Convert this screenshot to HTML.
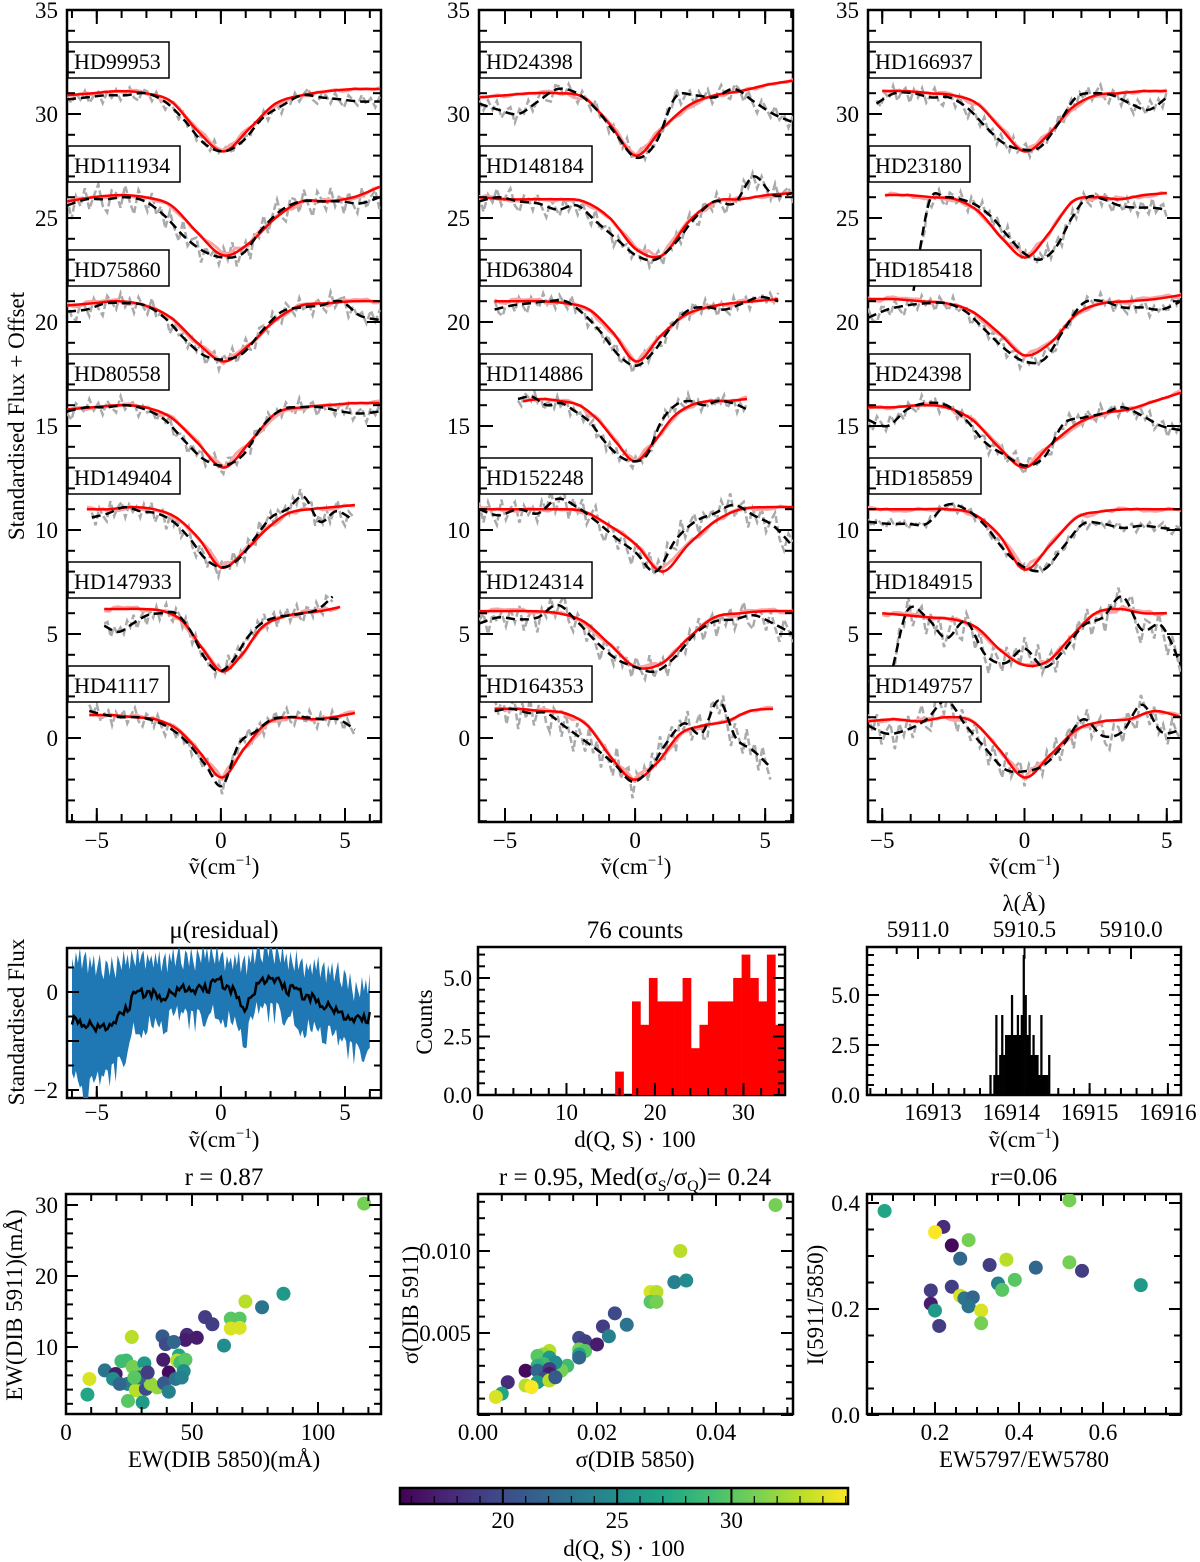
<!DOCTYPE html>
<html><head><meta charset="utf-8"><style>
html,body{margin:0;padding:0;background:#fff}
svg{display:block;font-family:"Liberation Serif",serif}
</style></head><body>
<svg id="fig" width="1200" height="1562" viewBox="0 0 1200 1562" xmlns="http://www.w3.org/2000/svg">
<defs>
<linearGradient id="viridis" x1="0" x2="1" y1="0" y2="0">
<stop offset="0" stop-color="#440154"/><stop offset="0.1" stop-color="#482475"/><stop offset="0.2" stop-color="#414487"/><stop offset="0.3" stop-color="#355f8d"/><stop offset="0.4" stop-color="#2a788e"/><stop offset="0.5" stop-color="#21918c"/><stop offset="0.6" stop-color="#22a884"/><stop offset="0.7" stop-color="#44bf70"/><stop offset="0.8" stop-color="#7ad151"/><stop offset="0.9" stop-color="#bddf26"/><stop offset="1" stop-color="#fde725"/>
</linearGradient>
</defs>
</svg>
<script>
// ---------- spectra data ----------
const p1Names=["HD99953","HD111934","HD75860","HD80558","HD149404","HD147933","HD41117"];
const p2Names=["HD24398","HD148184","HD63804","HD114886","HD152248","HD124314","HD164353"];
const p3Names=["HD166937","HD23180","HD185418","HD24398","HD185859","HD184915","HD149757"];
const p1RedRange=[[-6.2,6.4],[-6.2,6.4],[-6.2,6.4],[-6.2,6.4],[-5.4,5.4],[-4.7,4.8],[-5.3,5.4]];
const p1BlackRange=[[-6.2,6.4],[-6.2,6.4],[-6.2,6.4],[-6.2,6.4],[-5.2,5.3],[-4.7,4.5],[-5.3,5.4]];
const p1Red=[
[30.9,31.0,31.1,31.0,30.6,29.2,28.2,29.3,30.5,30.9,31.1,31.2,31.2],
[25.8,26.0,26.1,26.0,25.6,24.3,23.2,23.8,25.0,25.8,25.8,26.0,26.5],
[20.8,20.9,21.0,20.8,20.2,19.0,18.1,18.9,20.1,20.8,20.9,21.0,21.0],
[15.8,15.9,16.0,15.9,15.4,14.2,13.0,14.2,15.6,15.9,16.0,16.1,16.1],
[11.0,11.0,11.1,11.0,10.6,9.6,8.2,8.9,10.0,10.8,11.0,11.1,11.2],
[6.2,6.2,6.2,6.1,5.6,4.3,3.2,4.0,5.3,5.8,6.0,6.1,6.3],
[1.1,1.1,1.0,0.9,0.4,-0.7,-1.9,-0.5,0.7,1.0,0.9,1.0,1.2]];
const p1Black=[
[30.7,30.8,30.9,30.9,31.0,30.6,29.7,28.6,28.2,28.7,29.8,30.4,30.9,30.8,30.7,30.6,30.6],
[25.6,25.9,25.9,26.0,25.8,25.1,24.1,23.4,23.1,23.3,24.5,25.4,25.8,25.8,25.8,25.7,26.0],
[20.5,20.6,20.9,20.9,20.8,20.2,19.2,18.4,18.2,18.5,19.6,20.5,20.7,20.8,21.0,20.3,20.1],
[15.7,15.9,15.9,16.0,15.8,15.3,14.3,13.4,13.1,13.6,15.0,15.8,15.9,15.9,15.7,15.6,15.7],
[10.6,10.8,11.1,10.9,10.8,10.4,9.6,8.6,8.2,8.6,9.6,10.6,11.0,11.6,10.4,10.9,10.5],
[5.4,5.1,5.5,5.9,6.0,6.0,5.2,3.9,3.2,3.7,4.8,5.5,5.8,5.9,6.0,6.2,6.8],
[1.3,1.1,1.0,1.0,0.8,0.4,-0.3,-1.3,-2.3,-0.3,0.3,0.9,1.0,1.0,0.9,0.9,0.4]];
const p2RedRange=[[-6,6.07],[-6,6.07],[-5.4,5.5],[-4.3,4.3],[-6,6.07],[-6,6.07],[-5.4,5.3]];
const p2BlackRange=[[-6,6.07],[-6,6.07],[-5.4,5.5],[-4.5,4.3],[-6,6.07],[-6,6.07],[-5.4,5.2]];
const p2Red=[
[30.8,30.9,31.0,31.0,30.8,29.5,28.0,29.3,30.4,30.9,31.1,31.4,31.6],
[26.0,25.9,25.9,25.9,25.8,25.0,23.5,23.2,24.8,25.8,25.9,26.1,26.2],
[21.0,21.0,21.0,20.9,20.6,19.5,18.1,19.3,20.3,20.7,20.9,21.0,21.1],
[16.2,16.3,16.2,16.0,15.3,14.2,13.3,14.2,15.4,16.0,16.2,16.2,16.3],
[11.0,11.0,11.0,11.0,10.9,10.2,9.3,8.0,9.3,10.4,11.0,11.1,11.1],
[6.1,6.1,6.1,6.0,5.6,4.5,3.4,3.6,4.8,5.8,6.0,6.1,6.1],
[1.4,1.4,1.3,1.2,0.6,-0.9,-2.0,-1.2,0.2,0.6,0.8,1.3,1.4]];
const p2Black=[
[30.5,30.2,30.0,30.6,31.2,31.0,30.2,29.0,27.9,28.6,30.8,30.9,30.8,31.2,30.6,30.0,29.6],
[25.8,26.0,25.8,25.7,25.4,25.6,24.8,24.0,23.2,23.0,23.8,25.0,25.8,25.7,27.0,26.1,26.2],
[20.6,20.8,20.9,21.0,21.0,20.4,19.5,18.4,17.9,18.6,19.8,20.6,20.7,20.6,20.9,21.2,21.0],
[16.3,16.4,16.0,16.1,15.7,15.2,14.3,13.6,13.3,13.6,15.2,16.0,16.2,16.0,16.2,16.1,15.8],
[11.0,10.7,11.0,10.8,11.5,11.1,10.4,9.6,8.9,8.0,9.5,10.4,10.8,11.2,10.7,10.2,9.2],
[5.5,5.8,5.7,5.8,6.4,5.6,4.6,3.8,3.4,3.2,3.9,5.0,5.6,5.7,5.9,5.5,5.0],
[1.3,1.4,1.2,1.2,0.6,0.0,-0.6,-1.3,-2.1,-1.5,-0.2,0.7,0.2,1.8,0.0,-0.6,-1.4]];
const p3RedRange=[[-5,5],[-4.9,5],[-5.5,5.5],[-5.5,5.5],[-5.5,5.5],[-5,5],[-5.5,5.5]];
const p3BlackRange=[[-5.2,5],[-3.9,5],[-5.5,5.5],[-5.5,5.5],[-5.5,5.5],[-5.5,5.5],[-5.5,5.5]];
const p3Red=[
[31.1,31.1,31.0,30.9,30.5,29.3,28.2,29.0,30.3,30.9,31.0,31.1,31.1],
[26.1,26.1,26.0,25.9,25.3,24.0,23.1,24.3,25.8,26.0,25.9,26.1,26.2],
[21.1,21.1,21.0,20.9,20.5,19.5,18.4,19.0,20.4,20.9,21.0,21.1,21.3],
[15.9,15.9,16.0,15.9,15.3,14.0,13.0,14.1,15.1,15.6,15.8,16.2,16.6],
[11.0,11.0,11.0,11.0,10.8,9.8,8.1,9.3,10.6,10.9,11.0,11.0,11.0],
[6.0,5.9,5.8,5.7,5.3,4.2,3.5,3.7,4.9,6.0,6.2,6.0,6.0],
[0.8,0.9,0.8,1.0,0.8,-0.5,-1.9,-0.8,0.4,0.8,0.9,1.3,1.0]];
const p3Black=[
[30.5,31.0,31.0,30.8,30.8,30.3,29.4,28.6,28.3,28.4,29.5,30.8,31.0,30.9,30.5,30.2,30.8],
[21.5,25.8,26.0,25.9,25.6,25.0,24.1,23.3,23.0,23.6,25.0,26.0,25.9,25.6,25.5,25.5,25.4],
[20.2,20.6,20.8,20.9,20.9,20.5,19.6,18.7,18.1,18.2,19.6,20.9,21.0,20.7,20.7,20.6,21.0],
[15.3,15.0,15.8,16.1,16.0,15.3,14.2,13.6,13.1,13.5,15.1,15.4,15.6,15.9,15.5,15.0,14.8],
[10.4,10.3,10.3,10.3,11.2,11.0,10.2,9.0,8.2,8.1,9.2,10.3,10.3,10.1,10.2,10.1,10.0],
[2.5,2.6,6.1,5.8,4.8,5.6,4.0,3.6,4.3,3.4,4.2,5.4,5.8,6.8,5.2,5.4,3.5],
[0.6,0.2,0.4,0.9,1.8,0.6,-0.5,-1.5,-1.6,-1.3,-0.3,0.9,0.1,0.3,1.6,0.3,0.4]];
const p1Noise=[0.4,0.8,0.6,0.5,0.6,0.5,0.5];
const p2Noise=[0.5,0.6,0.5,0.4,0.8,0.8,1.0];
const p3Noise=[0.5,0.5,0.5,0.5,0.3,0.9,0.9];
const jitter=[0.3,-0.5,0.6,-0.2,0.8,-0.7,0.1,0.5,-0.9,0.4,-0.3,0.7,-0.6,0.2,0.9,-0.4,-0.8,0.5,0.3,-0.6,0.7,-0.2,-0.9,0.6,0.1,-0.5,0.8,-0.3,0.4,-0.7,0.6,-0.1,-0.6,0.9,-0.4,0.2,0.5,-0.8,0.3,-0.2];
const specTicks=[0,5,10,15,20,25,30,35];
// ---------- residual ----------
const resX=[-6,-5.5,-5,-4.5,-4,-3.5,-3,-2.5,-2,-1.5,-1,-0.5,0,0.5,1,1.5,2,2.5,3,3.5,4,4.5,5,5.5,6];
const resMean=[-0.6,-0.6,-0.7,-0.7,-0.5,-0.1,0.0,-0.1,0.0,0.1,0.0,0.1,0.2,0.0,-0.3,0.2,0.3,0.1,0.0,-0.1,-0.2,-0.3,-0.5,-0.6,-0.5];
const resUpper=[0.6,0.7,0.5,0.5,0.6,0.7,0.7,0.6,0.7,0.7,0.7,0.8,0.7,0.6,0.6,0.8,0.9,0.7,0.6,0.5,0.5,0.4,0.3,0.0,0.2];
const resLower=[-1.6,-2.1,-1.9,-1.7,-1.5,-0.8,-0.6,-0.7,-0.6,-0.5,-0.6,-0.5,-0.4,-0.6,-1.0,-0.4,-0.4,-0.5,-0.6,-0.7,-0.8,-1.0,-1.1,-1.3,-1.2];
// ---------- distance histogram ----------
const distBinStart=15.5, distBinWidth=0.953;
const distCounts=[1,0,4,3,5,4,4,4,5,2,3,4,4,4,5,6,5,4,6,3];
// ---------- wavenumber histogram ----------
const wnBinStart=16913.72, wnBinWidth=0.025;
const wnCounts=[1,0,1,4,1,2,4,2,3,3,3,5,3,3,4,3,4,7,5,3,4,2,3,2,2,1,4,1,1,1,2,0,0,0,0];
// ---------- scatters ----------
const ewX=[118.3,86.3,71.2,77.8,55.2,58.1,65.4,68.9,65.4,68.9,38.3,39.6,48.0,51.9,47.4,42.8,62.7,26.1,9.3,8.5,15.4,19.7,18.7,22.0,23.9,26.5,24.5,21.3,31.1,30.4,27.7,31.7,33.6,36.2,30.4,24.6,38.6,40.8,38.9,40.8,43.5,44.8,44.1,45.4,47.4,46.7,45.9,29.1,32.4,27.1];
const ewY=[30.2,17.5,16.4,15.6,14.2,13.2,14.0,14.0,12.6,12.7,11.5,10.4,11.7,11.3,11.0,10.7,10.2,11.4,5.5,3.3,6.7,6.2,5.5,8.0,8.1,7.2,4.8,4.8,7.7,6.2,3.9,4.1,4.8,4.3,2.2,2.4,8.2,6.4,4.9,3.7,5.5,8.8,8.1,7.8,8.2,6.6,5.7,5.7,6.4,5.7];
const ewC=[31,26,33,23,19,19,30,30,34,34,21,20,18,17,17,22,25,33,34,27,23,17,25,29,29,31,24,22,26,31,33,20,32,32,26,30,17,16,21,24,23,27,33,29,30,25,24,22,19,30];
const sgX=[0.050,0.034,0.033,0.035,0.029,0.030,0.029,0.030,0.023,0.025,0.021,0.022,0.017,0.018,0.017,0.018,0.017,0.017,0.020,0.015,0.014,0.013,0.012,0.011,0.010,0.012,0.013,0.011,0.010,0.008,0.010,0.012,0.012,0.011,0.010,0.012,0.008,0.005,0.004,0.003,0.009,0.013];
const sgY=[0.0128,0.0100,0.0081,0.0082,0.0075,0.0075,0.0069,0.0069,0.0062,0.0055,0.0054,0.0048,0.0047,0.0045,0.0040,0.0039,0.0037,0.0035,0.0043,0.0030,0.0027,0.0026,0.0039,0.0037,0.0036,0.0035,0.0032,0.0031,0.0030,0.0027,0.0027,0.0028,0.0025,0.0022,0.0020,0.0021,0.0018,0.0020,0.0013,0.0011,0.0017,0.0023];
const sgC=[31,33,24,25,34,33,30,31,20,23,19,24,20,19,31,30,27,22,17,29,31,31,33,32,30,26,25,29,28,16,22,19,17,20,26,33,33,18,27,34,35,21];
const rtX=[0.08,0.52,0.22,0.20,0.24,0.28,0.26,0.33,0.37,0.44,0.52,0.55,0.69,0.19,0.24,0.35,0.39,0.36,0.26,0.27,0.29,0.28,0.19,0.20,0.31,0.31,0.21];
const rtY=[0.385,0.405,0.355,0.345,0.320,0.330,0.295,0.283,0.293,0.278,0.288,0.272,0.245,0.235,0.242,0.248,0.255,0.236,0.225,0.220,0.222,0.205,0.210,0.197,0.197,0.173,0.168];
const rtC=[27,31,18,35,16,31,22,19,33,22,31,19,26,19,19,24,30,30,34,23,22,23,17,26,34,31,19];
const cbTicks=[20,25,30];

// ---------- helpers ----------
const NS="http://www.w3.org/2000/svg";
const svg=document.getElementById('fig');
const TF=23;
function mk(tag,attrs,parent){const e=document.createElementNS(NS,tag);for(const k in attrs)e.setAttribute(k,attrs[k]);(parent||svg).appendChild(e);return e;}
function lin(d0,d1,p0,p1){return v=>p0+(v-d0)*(p1-p0)/(d1-d0);}
const VIR=["#440154","#482475","#414487","#355f8d","#2a788e","#21918c","#22a884","#44bf70","#7ad151","#bddf26","#fde725"];
function hex(h){return [1,3,5].map(i=>parseInt(h.substr(i,2),16));}
function vir(v){let t=(v-15.5)/(35.1-15.5);t=Math.max(0,Math.min(1,t));const f=t*10,i=Math.min(9,Math.floor(f)),r=f-i;const a=hex(VIR[i]),b=hex(VIR[i+1]);return 'rgb('+a.map((c,k)=>Math.round(c+(b[k]-c)*r)).join(',')+')';}
function smooth(pts){let d='M'+pts[0][0].toFixed(1)+','+pts[0][1].toFixed(1);for(let i=0;i<pts.length-1;i++){const p0=pts[Math.max(0,i-1)],p1=pts[i],p2=pts[i+1],p3=pts[Math.min(pts.length-1,i+2)];const c1=[p1[0]+(p2[0]-p0[0])/6,p1[1]+(p2[1]-p0[1])/6],c2=[p2[0]-(p3[0]-p1[0])/6,p2[1]-(p3[1]-p1[1])/6];d+='C'+c1.map(v=>v.toFixed(1))+' '+c2.map(v=>v.toFixed(1))+' '+p2[0].toFixed(1)+','+p2[1].toFixed(1);}return d;}
function interp(arr,a,b,x){const t=(x-a)/(b-a)*(arr.length-1);const i=Math.max(0,Math.min(arr.length-2,Math.floor(t)));const r=t-i;return arr[i]+(arr[i+1]-arr[i])*r;}
function txt(s,x,y,size,anchor,parent){const t=mk('text',{x:x,y:y,'font-size':size,'text-anchor':anchor||'middle',fill:'#000'},parent);t.textContent=s;return t;}
let clipN=0;
function frame(x0,y0,x1,y1,name){const g=mk('g',{});

const r=mk('rect',{x:x0,y:y0,width:x1-x0,height:y1-y0,fill:'none',stroke:'#000','stroke-width':2.5},g);

return g;}
function clip(x0,y0,x1,y1){const id='c'+(clipN++);const cp=mk('clipPath',{id:id});mk('rect',{x:x0,y:y0,width:x1-x0,height:y1-y0},cp);return 'url(#'+id+')';}
function ticks(g,axis,map,lo,hi,step,len,p0,p1,both){const n0=Math.ceil(lo/step-1e-6),n1=Math.floor(hi/step+1e-6);for(let n=n0;n<=n1;n++){const v=map(n*step);if(axis==='x'){mk('line',{x1:v,x2:v,y1:p1,y2:p1-len,stroke:'#000','stroke-width':2},g);if(both)mk('line',{x1:v,x2:v,y1:p0,y2:p0+len,stroke:'#000','stroke-width':2},g);}else{mk('line',{x1:p0,x2:p0+len,y1:v,y2:v,stroke:'#000','stroke-width':2},g);if(both)mk('line',{x1:p1,x2:p1-len,y1:v,y2:v,stroke:'#000','stroke-width':2},g);}}}
function cmLabel(x,y,name){const t=mk('text',{x:x,y:y,'font-size':23,'text-anchor':'middle'});

t.innerHTML='ṽ(cm<tspan font-size="15" dy="-9">−1</tspan><tspan dy="9">)</tspan>';return t;}
function ylabel(s,x,y,name){const t=mk('text',{x:0,y:0,'font-size':23,'text-anchor':'middle',transform:'translate('+x+','+y+') rotate(-90)'});t.textContent=s;

return t;}

// ---------- spectra panels ----------
const SP=[{x0:67,x1:381,vmin:-6.2,vmax:6.45,names:p1Names,red:p1Red,blk:p1Black,rr:p1RedRange,br:p1BlackRange,nz:p1Noise,lx:58},
{x0:479,x1:793,vmin:-6.0,vmax:6.07,names:p2Names,red:p2Red,blk:p2Black,rr:p2RedRange,br:p2BlackRange,nz:p2Noise,lx:470},
{x0:868,x1:1181,vmin:-5.5,vmax:5.5,names:p3Names,red:p3Red,blk:p3Black,rr:p3RedRange,br:p3BlackRange,nz:p3Noise,lx:859}];
const SY0=10,SY1=822;const sy=lin(35,0,10,738);
SP.forEach((P,pi)=>{
  const g=frame(P.x0,SY0,P.x1,SY1,'spectra-panel-'+(pi+1));
  const sx=lin(P.vmin,P.vmax,P.x0,P.x1);
  const cl=clip(P.x0,SY0,P.x1,SY1);
  const lines=mk('g',{'clip-path':cl},g);
  P.names.forEach((nm,i)=>{
    const [ba,bb]=P.br[i],[ra,rb]=P.rr[i];
    let gp=[];const N=70;for(let j=0;j<=N;j++){const x=ba+(bb-ba)*j/N;gp.push([sx(x),sy(interp(P.blk[i],ba,bb,x)+jitter[(j+i*7)%40]*P.nz[i])]);}
    const gl=mk('polyline',{points:gp.map(p=>p.map(v=>v.toFixed(1)).join(',')).join(' '),fill:'none',stroke:'#aaa','stroke-width':2.5,'stroke-dasharray':'7,3'},lines);
    
    
    let pp=[];const M=50;for(let j=0;j<=M;j++){const x=ra+(rb-ra)*j/M;pp.push([sx(x),sy(interp(P.red[i],ra,rb,x)+jitter[(j*3+i)%40]*0.12)]);}
    const pl=mk('polyline',{points:pp.map(p=>p.map(v=>v.toFixed(1)).join(',')).join(' '),fill:'none',stroke:'#f8a5a5','stroke-width':3},lines);
    
    
    const rp=P.red[i].map((v,k)=>[sx(ra+(rb-ra)*k/(P.red[i].length-1)),sy(v)]);
    const rl=mk('path',{d:smooth(rp),fill:'none',stroke:'#f00','stroke-width':2.5},lines);
    
    
    const bp=P.blk[i].map((v,k)=>[sx(ba+(bb-ba)*k/(P.blk[i].length-1)),sy(v)]);
    const bl=mk('path',{d:smooth(bp),fill:'none',stroke:'#000','stroke-width':2.5,'stroke-dasharray':'9,5'},lines);
    
    
    const top=42+i*104;const w=32+11*(nm.length-2)+14;
    const bx=mk('g',{},g);
    
    mk('rect',{x:P.x0+1,y:top,width:w,height:36,fill:'#fff',stroke:'#000','stroke-width':1.5},bx);
    txt(nm,P.x0+7,top+27,22,'start',bx);
  });
  ticks(g,'y',sy,-4,35,5,14,P.x0,P.x1,true);
  ticks(g,'y',sy,-4,35,1,8,P.x0,P.x1,true);
  ticks(g,'x',sx,P.vmin,P.vmax,5,14,SY0,SY1,true);
  ticks(g,'x',sx,P.vmin,P.vmax,1,8,SY0,SY1,true);
  specTicks.forEach(v=>txt(String(v),P.lx,sy(v)+8,TF,'end',g));
  [-5,0,5].forEach(v=>txt(v<0?'−5':String(v),sx(v),848,TF,'middle',g));
  cmLabel((P.x0+P.x1)/2,874,'x-axis-title-'+(pi+1));
});
ylabel('Standardised Flux + Offset',24,416,'y-axis-title-spectra');

// ---------- residual panel ----------
{const x0=67,x1=381,y0=948,y1=1098;const g=frame(x0,y0,x1,y1,'residual-panel');
const sx=lin(-6.2,6.45,x0,x1),yy=lin(0,-2,992,1090);
const cl=clip(x0,y0,x1,y1);const lg=mk('g',{'clip-path':cl},g);
const N=150;let up=[],lo=[],mn=[];
for(let j=0;j<=N;j++){const x=-6+12*j/N;const jt=jitter[j%40],jt2=jitter[(j*7+3)%40];
up.push([sx(x),yy(interp(resUpper,-6,6,x)+jt*0.3)]);lo.push([sx(x),yy(interp(resLower,-6,6,x)+jt2*0.3)]);mn.push([sx(x),yy(interp(resMean,-6,6,x)+jitter[(j*3+1)%40]*0.13)]);}
let d='M'+up.map(p=>p[0].toFixed(1)+','+p[1].toFixed(1)).join('L');
for(let i=lo.length-1;i>=0;i--)d+='L'+lo[i][0].toFixed(1)+','+lo[i][1].toFixed(1);
const band=mk('path',{d:d+'Z',fill:'#1f77b4'},lg);

const ml=mk('polyline',{points:mn.map(p=>p.map(v=>v.toFixed(1)).join(',')).join(' '),fill:'none',stroke:'#000','stroke-width':2.5},lg);

ticks(g,'y',yy,-2.2,0.9,1,12,x0,x1,true);ticks(g,'y',yy,-2.2,0.9,0.5,7,x0,x1,true);
ticks(g,'x',sx,-6.2,6.45,5,12,y0,y1,false);ticks(g,'x',sx,-6.2,6.45,1,7,y0,y1,false);
txt('0',58,yy(0)+8,TF,'end',g);txt('−2',58,yy(-2)+8,TF,'end',g);
[-5,0,5].forEach(v=>txt(v<0?'−5':String(v),sx(v),1120,TF,'middle',g));
const t=txt('μ(residual)',224,938,25,'middle',g);

cmLabel(224,1147,'x-axis-title-residual');ylabel('Standardised Flux',24,1022,'y-axis-title-residual');}

// ---------- distance histogram ----------
{const x0=478,x1=785,y0=947,y1=1095;const g=frame(x0,y0,x1,y1,'distance-histogram');
const sx=lin(0,34.7,x0,x1),yy=lin(0,5,1095,978);
distCounts.forEach((c,i)=>{if(!c)return;const a=distBinStart+i*distBinWidth;const r=mk('rect',{x:sx(a),y:yy(c),width:sx(a+distBinWidth)-sx(a)+0.3,height:yy(0)-yy(c),fill:'#f00'},g);

});
ticks(g,'y',yy,0,6.3,2.5,12,x0,x1,true);ticks(g,'y',yy,0,6.3,0.5,7,x0,x1,true);
ticks(g,'x',sx,0,34.7,10,12,y0,y1,false);ticks(g,'x',sx,0,34.7,2,7,y0,y1,false);
['0.0','2.5','5.0'].forEach((s,i)=>txt(s,472,yy(i*2.5)+8,TF,'end',g));
[0,10,20,30].forEach(v=>txt(String(v),sx(v),1120,TF,'middle',g));
const t=txt('76 counts',635,938,25,'middle',g);

const xl=txt('d(Q, S) · 100',635,1147,23,'middle',g);

ylabel('Counts',432,1022,'y-axis-title-histogram');}

// ---------- wavenumber histogram ----------
{const x0=867,x1=1181,y0=947,y1=1095;const g=frame(x0,y0,x1,y1,'wavenumber-histogram');
const sx=lin(16913,16914,933,1011.3),yy=lin(0,5,1095,995);const lx=lin(5911,5910,918,1131);
wnCounts.forEach((c,i)=>{if(!c)return;const a=wnBinStart+i*wnBinWidth;const r=mk('rect',{x:sx(a),y:yy(c),width:sx(a+wnBinWidth)-sx(a)+0.3,height:yy(0)-yy(c),fill:'#000'},g);

});
ticks(g,'y',yy,0,7.4,2.5,12,x0,x1,true);ticks(g,'y',yy,0,7.4,0.5,7,x0,x1,true);
ticks(g,'x',sx,16912.16,16916.17,1,12,y0,y1,false);ticks(g,'x',sx,16912.16,16916.17,0.2,7,y0,y1,false);
for(let l=5910.0;l<=5911.2;l+=0.1){const v=lx(l);if(v<x0||v>x1)continue;const major=Math.abs(l*2-Math.round(l*2))<1e-6;mk('line',{x1:v,x2:v,y1:y0,y2:y0+(major?12:7),stroke:'#000','stroke-width':2},g);}
['0.0','2.5','5.0'].forEach((s,i)=>txt(s,860,yy(i*2.5)+8,TF,'end',g));
[16913,16914,16915,16916].forEach(v=>txt(String(v),sx(v),1120,TF,'middle',g));
['5911.0','5910.5','5910.0'].forEach((s,i)=>txt(s,lx(5911-i*0.5),937,TF,'middle',g));
const t=txt('λ(Å)',1024,911,23,'middle',g);

cmLabel(1024,1147,'x-axis-title-wavenumber');}

// ---------- scatters ----------
function scatter(name,x0,x1,sx,sy,xs,ys,cs,g){const cl=clip(x0,1194,x1,1414);const pg=mk('g',{'clip-path':cl},g);xs.forEach((x,i)=>{const c=mk('circle',{cx:sx(x),cy:sy(ys[i]),r:7,fill:vir(cs[i])},pg);

});}
{const x0=66,x1=381,y0=1194,y1=1414;const g=frame(x0,y0,x1,y1,'ew-scatter');
const sx=lin(0,50,66,192),sy=lin(0,10,1418,1347);
scatter('ew',x0,x1,sx,sy,ewX,ewY,ewC,g);
ticks(g,'y',sy,0.5,31.5,10,12,x0,x1,true);ticks(g,'y',sy,0.5,31.5,2,7,x0,x1,true);
ticks(g,'x',sx,0,125,50,12,y0,y1,true);ticks(g,'x',sx,0,125,10,7,y0,y1,true);
[10,20,30].forEach(v=>txt(String(v),58,sy(v)+8,TF,'end',g));
[0,50,100].forEach(v=>txt(String(v),sx(v),1440,TF,'middle',g));
const t=txt('r =  0.87',224,1185,25,'middle',g);

const xl=txt('EW(DIB 5850)(mÅ)',224,1467,23,'middle',g);

ylabel('EW(DIB 5911)(mÅ)',22,1305,'y-axis-title-ew');}
{const x0=478,x1=793,y0=1194,y1=1414;const g=frame(x0,y0,x1,y1,'sigma-scatter');
const sx=lin(0,0.02,478,597),sy=lin(0,0.005,1415,1333);
scatter('sigma',x0,x1,sx,sy,sgX,sgY,sgC,g);
ticks(g,'y',sy,0,0.0134,0.005,12,x0,x1,true);ticks(g,'y',sy,0,0.0134,0.001,7,x0,x1,true);
ticks(g,'x',sx,0,0.0529,0.02,12,y0,y1,true);ticks(g,'x',sx,0,0.0529,0.004,7,y0,y1,true);
['0.005','0.010'].forEach((s,i)=>txt(s,471,sy((i+1)*0.005)+8,TF,'end',g));
['0.00','0.02','0.04'].forEach((s,i)=>txt(s,sx(i*0.02),1440,TF,'middle',g));
const t=mk('text',{x:635,y:1185,'font-size':25,'text-anchor':'middle'},g);t.innerHTML='r =  0.95, Med(σ<tspan font-size="16" dy="6">S</tspan><tspan dy="-6">/σ</tspan><tspan font-size="16" dy="6">Q</tspan><tspan dy="-6">)= 0.24</tspan>';


const xl=txt('σ(DIB 5850)',635,1467,23,'middle',g);

ylabel('σ(DIB 5911)',418,1305,'y-axis-title-sigma');}
{const x0=867,x1=1181,y0=1194,y1=1414;const g=frame(x0,y0,x1,y1,'ratio-scatter');
const sx=lin(0,0.2,851,935),sy=lin(0,0.2,1415,1309);
scatter('ratio',x0,x1,sx,sy,rtX,rtY,rtC,g);
ticks(g,'y',sy,0,0.415,0.2,12,x0,x1,true);ticks(g,'y',sy,0,0.415,0.05,7,x0,x1,true);
ticks(g,'x',sx,0.038,0.78,0.2,12,y0,y1,true);ticks(g,'x',sx,0.038,0.78,0.05,7,y0,y1,true);
['0.0','0.2','0.4'].forEach((s,i)=>txt(s,860,sy(i*0.2)+8,TF,'end',g));
['0.2','0.4','0.6'].forEach((s,i)=>txt(s,sx((i+1)*0.2),1440,TF,'middle',g));
const t=txt('r=0.06',1024,1185,25,'middle',g);

const xl=txt('EW5797/EW5780',1024,1467,23,'middle',g);

ylabel('I(5911/5850)',823,1305,'y-axis-title-ratio');}

// ---------- colorbar ----------
{const g=mk('g',{});

const cx=lin(15.5,35.1,400,848);
mk('rect',{x:400,y:1488,width:448,height:16,fill:'url(#viridis)',stroke:'#000','stroke-width':2.5},g);
for(let v=16;v<=35;v++){const x=cx(v);const major=cbTicks.includes(v);mk('line',{x1:x,x2:x,y1:1504,y2:major?1488:1496,stroke:'#000','stroke-width':major?2:1.2},g);}
cbTicks.forEach(v=>txt(String(v),cx(v),1528,TF,'middle',g));
const t=txt('d(Q, S) · 100',624,1556,23,'middle',g);
}
</script>
</body></html>
